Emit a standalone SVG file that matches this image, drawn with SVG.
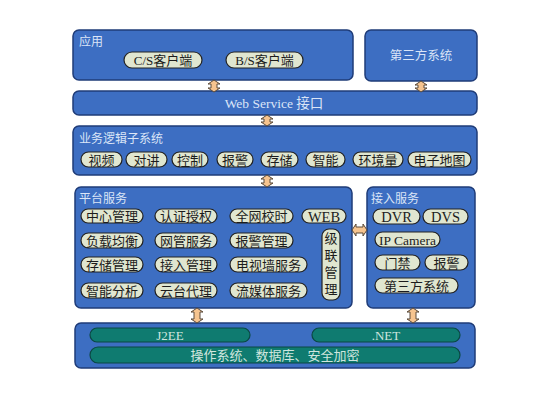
<svg xmlns="http://www.w3.org/2000/svg" width="550" height="400" viewBox="0 0 550 400">
<defs>
<style>
.box{fill:#3d6ec2;stroke:#1f3c78;stroke-width:1.5}
.pill{fill:#e0e6d0;stroke:#222;stroke-width:1.2}
.teal{fill:#0f7b70;stroke:#0a4843;stroke-width:1.2}
.arr{fill:#f6c48f;stroke:#5a4a3a;stroke-width:1}
text{font-family:"Liberation Serif","Noto Sans CJK SC",serif}
.t{font-size:12px;fill:#dbe5f7}
.p{font-size:13px;fill:#1c1c1c;text-anchor:middle}
.pl{font-size:14.5px}
.ip{font-size:13.5px}
.lt{font-size:12.5px;fill:#dbe5f7;text-anchor:middle}
.ws{font-size:13.5px}
.tt{font-size:13px;fill:#cfe6df;text-anchor:middle}
</style>
</defs>
<rect width="550" height="400" fill="#ffffff"/>

<g id="app">
<rect class="box" x="73" y="30" width="280" height="50" rx="6"/>
<text class="t" x="79" y="46">应用</text>
<rect class="pill" x="124" y="52" width="78" height="16" rx="8"/>
<text class="p" x="163" y="65">C/S客户端</text>
<rect class="pill" x="226" y="52" width="77" height="16" rx="8"/>
<text class="p" x="264.5" y="65">B/S客户端</text>
</g>

<g id="third">
<rect class="box" x="365" y="30" width="112" height="51" rx="6"/>
<text class="lt" x="421" y="60">第三方系统</text>
</g>

<g id="ws">
<rect class="box" x="73" y="91" width="404" height="24" rx="6"/>
<text class="lt ws" x="274" y="107.5">Web Service 接口</text>
</g>

<g id="biz">
<rect class="box" x="73" y="126" width="404" height="49" rx="6"/>
<text class="t" x="79" y="143">业务逻辑子系统</text>
<rect class="pill" x="81" y="152" width="41" height="15" rx="7.5"/>
<text class="p" x="101.5" y="164.5">视频</text>
<rect class="pill" x="126" y="152" width="41" height="15" rx="7.5"/>
<text class="p" x="146.5" y="164.5">对讲</text>
<rect class="pill" x="172" y="152" width="36" height="15" rx="7.5"/>
<text class="p" x="190" y="164.5">控制</text>
<rect class="pill" x="217" y="152" width="36" height="15" rx="7.5"/>
<text class="p" x="235" y="164.5">报警</text>
<rect class="pill" x="261" y="152" width="37" height="15" rx="7.5"/>
<text class="p" x="279.5" y="164.5">存储</text>
<rect class="pill" x="306" y="152" width="39" height="15" rx="7.5"/>
<text class="p" x="325.5" y="164.5">智能</text>
<rect class="pill" x="353" y="152" width="50" height="15" rx="7.5"/>
<text class="p" x="378" y="164.5">环境量</text>
<rect class="pill" x="408" y="152" width="63" height="15" rx="7.5"/>
<text class="p" x="439.5" y="164.5">电子地图</text>
</g>

<g id="platform">
<rect class="box" x="75" y="187" width="277" height="121" rx="6"/>
<text class="t" x="79" y="203">平台服务</text>
<rect class="pill" x="81" y="209" width="62" height="14" rx="7"/>
<text class="p" x="112" y="221">中心管理</text>
<rect class="pill" x="155" y="209" width="62" height="14" rx="7"/>
<text class="p" x="186" y="221">认证授权</text>
<rect class="pill" x="230" y="209" width="63" height="14" rx="7"/>
<text class="p" x="261.5" y="221">全网校时</text>
<rect class="pill" x="302" y="209" width="44" height="14" rx="7"/>
<text class="p pl" x="324" y="221.5">WEB</text>
<rect class="pill" x="81" y="233" width="62" height="15" rx="7.5"/>
<text class="p" x="112" y="245.5">负载均衡</text>
<rect class="pill" x="155" y="233" width="62" height="15" rx="7.5"/>
<text class="p" x="186" y="245.5">网管服务</text>
<rect class="pill" x="230" y="233" width="63" height="15" rx="7.5"/>
<text class="p" x="261.5" y="245.5">报警管理</text>
<rect class="pill" x="81" y="257" width="62" height="15" rx="7.5"/>
<text class="p" x="112" y="269.5">存储管理</text>
<rect class="pill" x="155" y="257" width="62" height="15" rx="7.5"/>
<text class="p" x="186" y="269.5">接入管理</text>
<rect class="pill" x="230" y="257" width="77" height="15" rx="7.5"/>
<text class="p" x="268.5" y="269.5">电视墙服务</text>
<rect class="pill" x="81" y="283" width="62" height="15" rx="7.5"/>
<text class="p" x="112" y="295.5">智能分析</text>
<rect class="pill" x="155" y="283" width="62" height="15" rx="7.5"/>
<text class="p" x="186" y="295.5">云台代理</text>
<rect class="pill" x="230" y="283" width="77" height="15" rx="7.5"/>
<text class="p" x="268.5" y="295.5">流媒体服务</text>
<rect class="pill" x="322" y="229" width="18" height="71" rx="7"/>
<text class="p" x="331" y="243">级</text>
<text class="p" x="331" y="260">联</text>
<text class="p" x="331" y="277">管</text>
<text class="p" x="331" y="294">理</text>
</g>

<g id="access">
<rect class="box" x="367" y="187" width="108" height="121" rx="6"/>
<text class="t" x="371" y="203">接入服务</text>
<rect class="pill" x="373" y="209" width="47" height="15" rx="7.5"/>
<text class="p pl" x="396.5" y="222">DVR</text>
<rect class="pill" x="423" y="209" width="45" height="15" rx="7.5"/>
<text class="p pl" x="445.5" y="222">DVS</text>
<rect class="pill" x="375" y="232" width="65" height="15" rx="7.5"/>
<text class="p ip" x="407.5" y="244.5">IP Camera</text>
<rect class="pill" x="375" y="255" width="45" height="15" rx="7.5"/>
<text class="p" x="397.5" y="267.5">门禁</text>
<rect class="pill" x="425" y="255" width="43" height="15" rx="7.5"/>
<text class="p" x="446.5" y="267.5">报警</text>
<rect class="pill" x="375" y="278" width="83" height="15" rx="7.5"/>
<text class="p" x="416.5" y="290.5">第三方系统</text>
</g>

<g id="base">
<rect class="box" x="75" y="323" width="400" height="45" rx="6"/>
<rect class="teal" x="90" y="328" width="160" height="14" rx="7"/>
<text class="tt" x="170" y="339.5">J2EE</text>
<rect class="teal" x="312" y="328" width="148" height="14" rx="7"/>
<text class="tt" x="386" y="339.5">.NET</text>
<rect class="teal" x="90" y="347" width="370" height="16" rx="8"/>
<text class="tt" x="275" y="359.5">操作系统、数据库、安全加密</text>
</g>

<g id="connectors">
<path class="arr" d="M214,80 L220,84 L217,84 L217,88 L220,88 L214,92 L208,88 L211,88 L211,84 L208,84 Z"/>
<path class="arr" d="M421,81 L427,85 L424,85 L424,88 L427,88 L421,92 L415,88 L418,88 L418,85 L415,85 Z"/>
<path class="arr" d="M267,115 L273,119 L270,119 L270,122 L273,122 L267,126 L261,122 L264,122 L264,119 L261,119 Z"/>
<path class="arr" d="M267,175 L273,179 L270,179 L270,183 L273,183 L267,187 L261,183 L264,183 L264,179 L261,179 Z"/>
<path class="arr" d="M352,230 L356,224 L356,227 L363,227 L363,224 L367,230 L363,236 L363,233 L356,233 L356,236 Z"/>
<path class="arr" d="M197,308 L203,312 L200,312 L200,319 L203,319 L197,323 L191,319 L194,319 L194,312 L191,312 Z"/>
<path class="arr" d="M413,308 L419,312 L416,312 L416,319 L419,319 L413,323 L407,319 L410,319 L410,312 L407,312 Z"/>
</g>
</svg>
